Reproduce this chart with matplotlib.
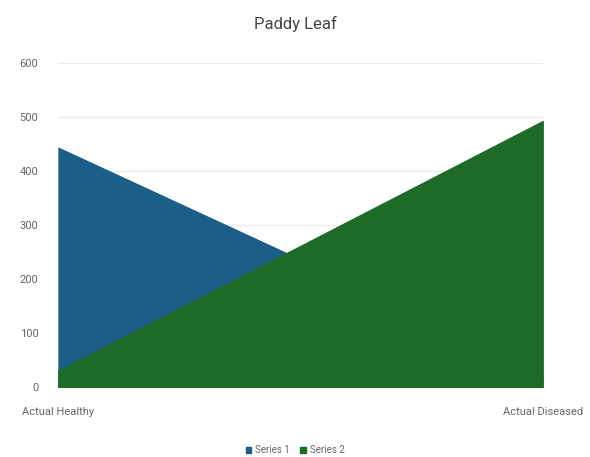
import matplotlib.pyplot as plt
from matplotlib.patches import Patch

categories = ["Actual Healthy", "Actual Diseased"]
series1 = [445, 30]
series2 = [30, 493]
series_names = ["Series 1", "Series 2"]
yticks = [0, 100, 200, 300, 400, 500, 600]

blue = "#1b5e87"
green = "#1e6b28"

plt.rcParams['font.family'] = ['Roboto', 'DejaVu Sans']

fig = plt.figure(figsize=(5.9, 4.57), dpi=100)
ax = fig.add_axes([0.098, 0.153, 0.822, 0.709])

x = list(range(len(categories)))
ax.fill_between(x, 0, series1, color=blue, linewidth=0, zorder=2)
ax.fill_between(x, 0, series2, facecolor=green, edgecolor=green,
                linewidth=0.8, zorder=3)

ax.set_xlim(0, 1)
ax.set_ylim(0, 600)
ax.set_yticks(yticks)
ax.set_yticklabels([str(v) for v in yticks], color="#666666", fontsize=8)
ax.set_xticks(x)
ax.set_xticklabels(categories, color="#666666", fontsize=8)
ax.tick_params(length=0)
ax.tick_params(axis='y', pad=14)
ax.tick_params(axis='x', pad=14)
ax.grid(axis='y', color="#ececec", linewidth=1, zorder=0)
ax.set_axisbelow(True)
for s in ax.spines.values():
    s.set_visible(False)

fig.suptitle("Paddy Leaf", y=0.965, fontsize=12, color="#444444")

handles = [Patch(color=blue), Patch(color=green)]
fig.legend(handles, series_names, loc='center', bbox_to_anchor=(0.5, 0.015),
           ncol=2, frameon=False, fontsize=7, handlelength=0.6, handleheight=0.6,
           columnspacing=1.0, handletextpad=0.4, labelcolor="#666666")

fig.savefig("out.png", dpi=100)
